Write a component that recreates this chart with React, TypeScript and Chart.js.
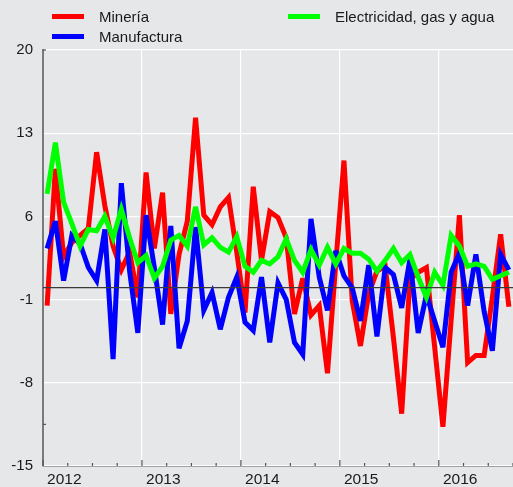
import React, { useEffect, useRef } from 'react';
import { Chart, registerables } from 'chart.js';

Chart.register(...registerables);

const yearLabels = ['2012', '2013', '2014', '2015', '2016'];
const monthNames = ['ene', 'feb', 'mar', 'abr', 'may', 'jun', 'jul', 'ago', 'sep', 'oct', 'nov', 'dic'];
const monthCount = 57;
const categories: string[] = yearLabels
  .flatMap((y) => monthNames.map((m) => `${m} ${y}`))
  .slice(0, monthCount);

const yTickValues = [-15, -8, -1, 6, 13, 20];

const mineria = [
  -1.5, 10.0, 2.6, 3.8, 4.4, 5.0, 11.4, 6.9, 3.5, 1.5, 3.0, -0.8,
  9.7, 3.3, 8.0, -2.2, 2.8, 5.6, 14.3, 6.1, 5.3, 6.8, 7.6, 3.0,
  -2.1, 8.5, 2.3, 6.4, 5.9, 4.2, -2.2, 0.8, -2.3, -1.5, -7.2, 2.0,
  10.7, -1.1, -4.9, -0.5, 1.4, 1.8, -4.2, -10.6, 0.7, 1.3, 1.7, -5.0,
  -11.7, -2.7, 6.1, -6.3, -5.7, -5.7, -0.8, 4.5, -1.6,
];

const manufactura = [
  3.3, 5.6, 0.6, 4.4, 3.7, 1.7, 0.6, 4.9, -6.0, 8.8, 1.4, -3.8,
  6.1, 1.7, -3.1, 5.2, -5.1, -2.8, 5.1, -1.9, -0.4, -3.5, -0.8, 0.9,
  -2.9, -3.6, 0.9, -4.6, 0.4, -1.0, -4.6, -5.6, 5.8, 0.9, -1.9, 3.1,
  1.0, 0.0, -2.8, 1.9, -4.1, 1.7, 1.1, -1.7, 2.4, -3.8, -0.6, -2.8,
  -5.0, 1.3, 2.9, -1.5, 2.8, -2.0, -5.3, 2.8, 1.5,
];

const electricidad = [
  7.9, 12.2, 7.2, 5.4, 3.5, 4.9, 4.8, 6.0, 4.2, 6.6, 4.2, 2.1,
  2.7, 0.8, 1.8, 4.0, 4.4, 3.5, 6.8, 3.6, 4.2, 3.4, 3.0, 4.3,
  1.8, 1.3, 2.3, 2.0, 2.6, 4.1, 2.3, 1.3, 3.2, 1.9, 3.4, 2.0,
  3.3, 2.9, 2.9, 2.4, 1.4, 2.3, 3.3, 2.1, 2.8, 0.9, -0.8, 1.3,
  0.2, 4.4, 3.5, 1.8, 2.0, 1.8, 0.7, 1.0, 1.3,
];

const seriesNames = ['Minería', 'Manufactura', 'Electricidad, gas y agua'];
const seriesColors = ['#ff0000', '#0000ff', '#00ff00'];

const FONT = '"Liberation Sans", Arial, sans-serif';
const BG = '#e6e7e9';

const decorPlugin = {
  id: 'decor',
  beforeDatasetsDraw(chart: any) {
    chart.ctx.miterLimit = 4;
  },
  afterDatasetsDraw(chart: any) {
    const { ctx, chartArea, scales } = chart;
    ctx.miterLimit = 10;
    const y = scales.y;
    const y0 = y.getPixelForValue(0);
    ctx.save();
    ctx.strokeStyle = '#3a3a3a';
    ctx.lineWidth = 1.3;
    ctx.beginPath();
    ctx.moveTo(chartArea.left, y0);
    ctx.lineTo(chartArea.right, y0);
    ctx.stroke();
    ctx.restore();
  },
  afterDraw(chart: any) {
    const { ctx, chartArea, scales } = chart;
    const x = scales.x;
    const y = scales.y;
    const half = (x.getPixelForValue(1) - x.getPixelForValue(0)) / 2;
    ctx.save();
    ctx.strokeStyle = '#555555';
    ctx.lineWidth = 1.2;
    for (let i = 0; i <= categories.length; i += 3) {
      const bx =
        i < categories.length
          ? x.getPixelForValue(i) - half
          : x.getPixelForValue(categories.length - 1) + half;
      const len = i % 12 === 0 ? 6 : 3;
      ctx.beginPath();
      ctx.moveTo(bx, chartArea.bottom);
      ctx.lineTo(bx, chartArea.bottom - len);
      ctx.stroke();
    }
    [20, -11.5].forEach((v) => {
      const py = y.getPixelForValue(v);
      ctx.beginPath();
      ctx.moveTo(chartArea.left, py);
      ctx.lineTo(chartArea.left + 3, py);
      ctx.stroke();
    });
    ctx.restore();
  },
};

export default function App() {
  const canvasRef = useRef<HTMLCanvasElement | null>(null);

  useEffect(() => {
    if (!canvasRef.current) return;
    const data = [mineria, manufactura, electricidad];
    const chart = new Chart(canvasRef.current, {
      type: 'line',
      data: {
        labels: categories,
        datasets: data.map((d, i) => ({
          label: seriesNames[i],
          data: d,
          borderColor: seriesColors[i],
          backgroundColor: seriesColors[i],
          borderWidth: 5,
          borderJoinStyle: 'miter',
          pointRadius: 0,
          tension: 0,
          fill: false,
          order: 2 - i,
        })),
      },
      options: {
        responsive: false,
        animation: false,
        layout: { padding: { top: 50, left: 10, right: 0, bottom: 0 } },
        plugins: {
          legend: { display: false },
          tooltip: { enabled: false },
          title: { display: false },
        },
        scales: {
          x: {
            type: 'category',
            offset: true,
            afterFit: (s: any) => {
              s.height = 21;
            },
            grid: {
              offset: true,
              drawTicks: false,
              lineWidth: 1.2,
              color: (c: any) => (c.index % 12 === 0 ? '#ffffff' : 'rgba(0,0,0,0)'),
            },
            border: { display: true, color: '#a0a0a0', width: 1 },
            ticks: {
              autoSkip: false,
              maxRotation: 0,
              minRotation: 0,
              align: 'start',
              padding: 4,
              color: '#1a1a1a',
              font: { family: FONT, size: 15.5 },
              callback: (_v: any, idx: number) => (idx % 12 === 0 ? yearLabels[idx / 12] : ''),
            },
          },
          y: {
            min: -15,
            max: 20,
            afterFit: (s: any) => {
              s.width = 33;
            },
            afterBuildTicks: (s: any) => {
              s.ticks = yTickValues.map((v) => ({ value: v }));
            },
            grid: { color: '#ffffff', lineWidth: 1.2, drawTicks: false },
            border: { display: true, color: '#7a7a7a', width: 2 },
            ticks: {
              padding: 10,
              color: '#1a1a1a',
              font: { family: FONT, size: 15 },
            },
          },
        },
      },
      plugins: [decorPlugin],
    });
    return () => chart.destroy();
  }, []);

  const legendText: React.CSSProperties = {
    position: 'absolute',
    fontFamily: FONT,
    fontSize: 15,
    lineHeight: '18px',
    color: '#1a1a1a',
    whiteSpace: 'nowrap',
  };
  const legendLine = (color: string, left: number, top: number): React.CSSProperties => ({
    position: 'absolute',
    left,
    top,
    width: 32,
    height: 5,
    background: color,
  });

  return (
    <div
      style={{
        position: 'fixed',
        left: 0,
        top: 0,
        width: 513,
        height: 487,
        background: BG,
        overflow: 'hidden',
      }}
    >
      <canvas ref={canvasRef} width={513} height={487} style={{ position: 'absolute', left: 0, top: 0 }} />
      <div style={legendLine(seriesColors[0], 52, 14)} />
      <div style={{ ...legendText, left: 99, top: 8 }}>{seriesNames[0]}</div>
      <div style={legendLine(seriesColors[1], 52, 34)} />
      <div style={{ ...legendText, left: 99, top: 28 }}>{seriesNames[1]}</div>
      <div style={legendLine(seriesColors[2], 288, 14)} />
      <div style={{ ...legendText, left: 335, top: 8 }}>{seriesNames[2]}</div>
    </div>
  );
}
